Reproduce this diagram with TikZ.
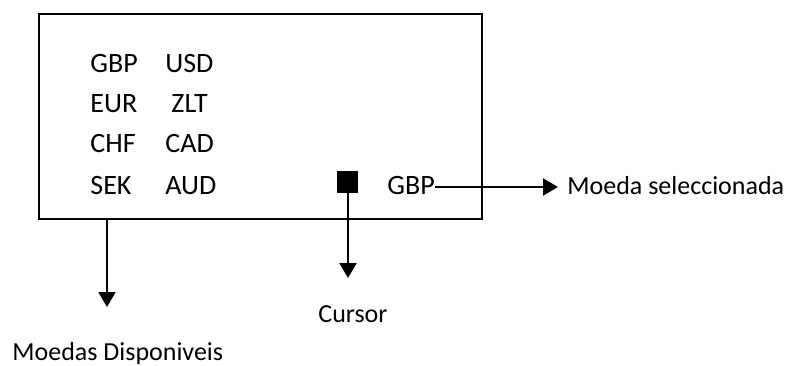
\documentclass[tikz,border=0pt]{standalone}
\usepackage{fontspec}
\setmainfont{Carlito}
\usepackage{tikz}
\usetikzlibrary{arrows.meta,positioning}

\begin{document}
\begin{tikzpicture}[x=0.5pt,y=-0.5pt]
                    \tikzstyle{every node}+=[inner sep=0pt, font=\fontsize{13}{15}\selectfont]
                    \tikzstyle{txt}=[anchor=base west]
                    \tikzstyle{code}=[anchor=base west, font=\fontsize{14}{16}\selectfont]
                    \tikzstyle{arr}=[black, line width=1pt, -{Triangle[length=7.5pt,width=8.5pt]}]
                    \useasboundingbox (0,0) rectangle (790,365);
                    % ecra
                    \node [draw, black, line width=1pt, minimum width=221.5pt, minimum height=102.5pt] (ecra) at (260.5,116.5) {};
                    \node [code] (gbp) at (90,72) {GBP};
                    \node [code] (usd) at (165,72) {USD};
                    \node [code] (eur) at (90,112) {EUR};
                    \node [code] (zlt) at (171,112) {ZLT};
                    \node [code] (chf) at (90,152) {CHF};
                    \node [code] (cad) at (165,152) {CAD};
                    \node [code] (sek) at (90,194) {SEK};
                    \node [code] (aud) at (165,194) {AUD};
                    \fill [black] (337,171) rectangle (358,193);
                    \coordinate (cur) at (348,193);
                    \node [code] (sel) at (387,194) {GBP};
                    % legendas
                    \node [txt] (moeda) at (567,194) {Moeda seleccionada};
                    \node [txt] (cursor) at (318,322) {Cursor};
                    \node [txt] (disp) at (12,360) {Moedas Disponiveis};
                    \coordinate (selTip) at (558,187);
                    \coordinate (curTip) at (348,278);
                    \coordinate (dispTip) at (107,307);
                    \draw [arr] (sel.east |- selTip) -- (selTip);
                    \draw [arr] (cur) -- (curTip);
                    \draw [arr] (ecra.south -| dispTip) -- (dispTip);
                \end{tikzpicture}
\end{document}
